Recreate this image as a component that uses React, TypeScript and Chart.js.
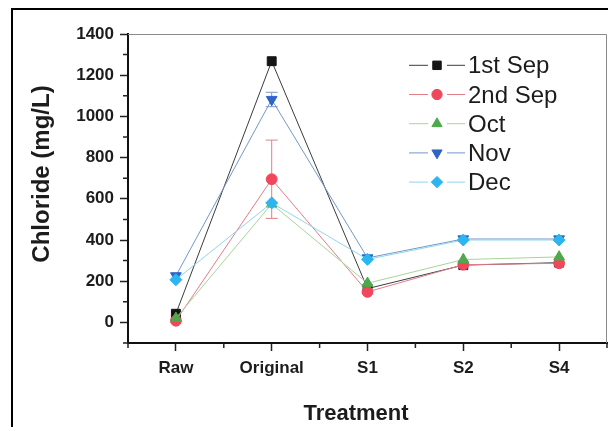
import { useEffect, useRef } from 'react';
import { Chart, registerables } from 'chart.js';
import { drawPoint } from 'chart.js/helpers';

Chart.register(...registerables);

// ---- data ----
const categories = ['Raw', 'Original', 'S1', 'S2', 'S4'];
const seriesNames = ['1st Sep', '2nd Sep', 'Oct', 'Nov', 'Dec'];
const sep1Values = [42, 1268, 164, 278, 290];
const sep2Values = [8, 695, 148, 280, 287];
const octValues = [20, 575, 190, 305, 318];
const novValues = [226, 1082, 313, 405, 405];
const decValues = [207, 580, 306, 400, 400];
const sep2Errors = [0, 190, 0, 0, 0];
const novErrors = [0, 35, 0, 0, 0];
const yMin = -100;
const yMax = 1400;
const yMajorStep = 200;
const yMinorStep = 100;
const xTitle = 'Treatment';
const yTitle = 'Chloride (mg/L)';

// ---- styles ----
const seriesStyles = [
  { line: '#3c3c3c', marker: '#151515', shape: 'rect', rot: 0, r: 6.3 },
  { line: '#e27d8a', marker: '#f0475c', shape: 'circle', rot: 0, r: 5.4 },
  { line: '#a9d49b', marker: '#4ea84c', shape: 'triangle', rot: 0, r: 6.2 },
  { line: '#7598c9', marker: '#2f63c6', shape: 'triangle', rot: 180, r: 6.2 },
  { line: '#90d7ee', marker: '#2db5ef', shape: 'rectRot', rot: 0, r: 6 },
];

const allValues = [sep1Values, sep2Values, octValues, novValues, decValues];
const allErrors = [null, sep2Errors, null, novErrors, null];

const FONT = '"Liberation Sans", Arial, sans-serif';

const decorPlugin = {
  id: 'decor',
  beforeDraw(chart: any) {
    const ctx = chart.ctx;
    ctx.save();
    ctx.fillStyle = '#ffffff';
    ctx.fillRect(0, 0, chart.width, chart.height);
    ctx.restore();
  },
  beforeDatasetsDraw(chart: any) {
    const ctx = chart.ctx;
    const xs = chart.scales.x;
    const ys = chart.scales.y;
    ctx.save();
    allErrors.forEach((errs, di) => {
      if (!errs) return;
      const vals = allValues[di];
      ctx.strokeStyle = seriesStyles[di].line;
      ctx.lineWidth = 1;
      errs.forEach((e, i) => {
        if (!e) return;
        const px = xs.getPixelForValue(i);
        const yTop = ys.getPixelForValue(vals[i] + e);
        const yBot = ys.getPixelForValue(vals[i] - e);
        ctx.beginPath();
        ctx.moveTo(px, yTop);
        ctx.lineTo(px, yBot);
        ctx.moveTo(px - 6, yTop);
        ctx.lineTo(px + 6, yTop);
        ctx.moveTo(px - 6, yBot);
        ctx.lineTo(px + 6, yBot);
        ctx.stroke();
      });
    });
    ctx.restore();
  },
  afterDraw(chart: any) {
    const ctx = chart.ctx;
    const { left, right, top, bottom } = chart.chartArea;
    const xs = chart.scales.x;
    const ys = chart.scales.y;
    ctx.save();

    // outer frame
    ctx.fillStyle = '#000';
    ctx.fillRect(11, 8, 2, chart.height);
    ctx.fillRect(11, 8, chart.width, 2);

    // thin top/right plot border
    ctx.strokeStyle = '#8a8a8a';
    ctx.lineWidth = 1;
    ctx.beginPath();
    ctx.moveTo(left, top + 0.5);
    ctx.lineTo(right - 0.5, top + 0.5);
    ctx.lineTo(right - 0.5, bottom);
    ctx.stroke();

    // minor ticks
    ctx.strokeStyle = '#222';
    ctx.lineWidth = 1.5;
    ctx.beginPath();
    for (let v = yMin; v <= yMax; v += yMinorStep) {
      if (v % yMajorStep === 0) continue;
      const py = ys.getPixelForValue(v);
      ctx.moveTo(left - 5, py);
      ctx.lineTo(left, py);
    }
    const step = xs.getPixelForValue(1) - xs.getPixelForValue(0);
    for (let i = 0; i <= categories.length; i++) {
      const px = xs.getPixelForValue(0) - step / 2 + i * step;
      ctx.moveTo(px, bottom);
      ctx.lineTo(px, bottom + 5);
    }
    ctx.stroke();

    // legend
    const rowBaselines = [73.3, 102.5, 131.7, 160.9, 190.1];
    ctx.font = `24px ${FONT}`;
    ctx.textAlign = 'left';
    ctx.textBaseline = 'alphabetic';
    seriesNames.forEach((name, i) => {
      const st = seriesStyles[i];
      const cy = rowBaselines[i] - 8;
      ctx.strokeStyle = st.line;
      ctx.lineWidth = 1;
      ctx.beginPath();
      ctx.moveTo(409, cy);
      ctx.lineTo(428, cy);
      ctx.moveTo(447, cy);
      ctx.lineTo(465, cy);
      ctx.stroke();
      ctx.fillStyle = st.marker;
      ctx.strokeStyle = st.marker;
      drawPoint(ctx, { pointStyle: st.shape, rotation: st.rot, radius: st.r * 0.95, borderWidth: 1 } as any, 437, cy);
      ctx.fillStyle = '#1c1c1c';
      ctx.fillText(name, 468, rowBaselines[i]);
    });

    // axis titles
    ctx.fillStyle = '#1c1c1c';
    ctx.font = `bold 22px ${FONT}`;
    ctx.textAlign = 'center';
    ctx.fillText(xTitle, 356, 420);
    ctx.save();
    ctx.translate(49, 174);
    ctx.rotate(-Math.PI / 2);
    ctx.font = `bold 24px ${FONT}`;
    ctx.fillText(yTitle, 0, 0);
    ctx.restore();

    ctx.restore();
  },
};

export default function App() {
  const ref = useRef<HTMLCanvasElement | null>(null);
  useEffect(() => {
    if (!ref.current) return;
    const datasets = allValues.map((vals, i) => ({
      label: seriesNames[i],
      data: vals,
      borderColor: seriesStyles[i].line,
      borderWidth: 1,
      pointStyle: seriesStyles[i].shape,
      rotation: seriesStyles[i].rot,
      pointRadius: seriesStyles[i].r,
      pointBackgroundColor: seriesStyles[i].marker,
      pointBorderColor: seriesStyles[i].marker,
      pointBorderWidth: 1,
      tension: 0,
      fill: false,
      order: seriesNames.length - 1 - i,
    }));
    const chart = new Chart(ref.current, {
      type: 'line',
      data: { labels: categories, datasets: datasets as any },
      options: {
        responsive: false,
        animation: false,
        events: [],
        layout: { autoPadding: false, padding: { top: 34, right: 1, left: 0, bottom: 0 } },
        plugins: { legend: { display: false }, tooltip: { enabled: false }, title: { display: false } },
        scales: {
          x: {
            type: 'category',
            offset: true,
            afterFit: (s: any) => { s.height = 84; s.paddingLeft = 0; s.paddingRight = 0; },
            grid: { drawOnChartArea: false, drawTicks: true, tickLength: 8, tickWidth: 1.5, tickColor: '#222', offset: false },
            border: { display: true, width: 2, color: '#111' },
            ticks: { color: '#1c1c1c', font: { family: FONT, size: 17, weight: 'bold' }, padding: 7, maxRotation: 0, autoSkip: false },
          },
          y: {
            type: 'linear',
            min: yMin,
            max: yMax,
            afterFit: (s: any) => { s.width = 128; s.paddingTop = 0; s.paddingBottom = 0; },
            afterBuildTicks: (s: any) => {
              const t = [];
              for (let v = 0; v <= yMax; v += yMajorStep) t.push({ value: v });
              s.ticks = t;
            },
            grid: { drawOnChartArea: false, drawTicks: true, tickLength: 8, tickWidth: 1.5, tickColor: '#222' },
            border: { display: true, width: 2, color: '#111' },
            ticks: { color: '#1c1c1c', font: { family: FONT, size: 17, weight: 'bold' }, padding: 6, callback: (v: any) => String(v) },
          },
        },
      },
      plugins: [decorPlugin],
    });
    return () => chart.destroy();
  }, []);
  return (
    <div style={{ position: 'fixed', left: 0, top: 0, width: 608, height: 427, background: '#fff' }}>
      <canvas ref={ref} width={608} height={427} style={{ display: 'block' }} />
    </div>
  );
}
